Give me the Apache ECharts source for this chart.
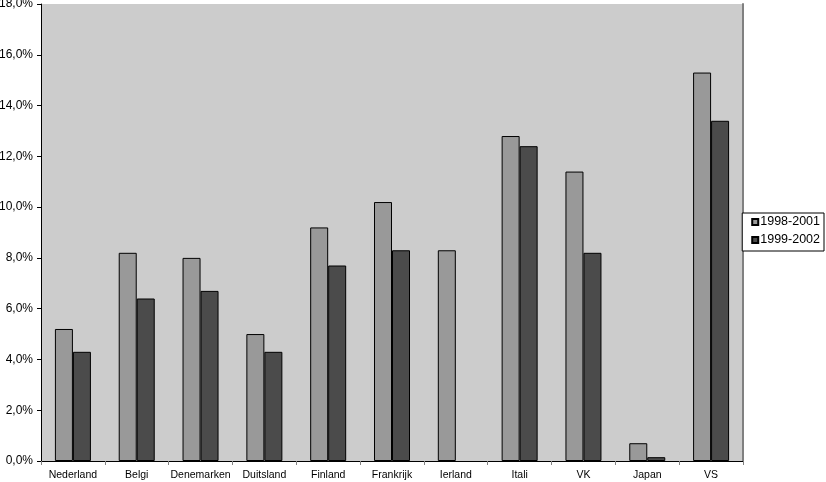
<!DOCTYPE html>
<html>
<head>
<meta charset="utf-8">
<script src="https://cdn.jsdelivr.net/npm/echarts@6/dist/echarts.min.js"></script>
<style>
html,body{margin:0;padding:0;background:#fff;}
#chart{width:826px;height:482px;}
</style>
</head>
<body>
<div id="chart"></div>
<script>
var categories = ['Nederland','Belgi','Denemarken','Duitsland','Finland','Frankrijk','Ierland','Itali','VK','Japan','VS'];
var seriesNames = ['1998-2001','1999-2002'];
var values1998 = [5.2, 8.2, 8.0, 5.0, 9.2, 10.2, 8.3, 12.8, 11.4, 0.7, 15.3];
var values1999 = [4.3, 6.4, 6.7, 4.3, 7.7, 8.3, null, 12.4, 8.2, 0.15, 13.4];
var yMin = 0, yMax = 18, yStep = 2;

var font = "'Liberation Sans', Arial, Helvetica, sans-serif";
var chart = echarts.init(document.getElementById('chart'), null, {renderer:'canvas'});
function fmt(v){ return v.toFixed(1).replace('.', ',') + '%'; }
chart.setOption({
  animation:false,
  backgroundColor:'#ffffff',
  textStyle:{fontFamily:font, color:'#000'},
  grid:{left:41, right:83, top:4, bottom:21, containLabel:false, outerBoundsMode:'none',
        show:true, backgroundColor:'#cccccc', borderWidth:0},
  legend:{
    orient:'vertical', right:2, top:213,
    icon:'rect', itemWidth:6, itemHeight:6, itemGap:4,
    backgroundColor:'#ffffff', borderColor:'#000', borderWidth:1, borderRadius:0,
    padding:[2,4,4,9],
    textStyle:{fontFamily:font, fontSize:12.5, lineHeight:14, color:'#000', padding:[0,0,0,-3]},
    data:seriesNames
  },
  xAxis:[{
    type:'category', data:categories, position:'bottom',
    axisLine:{lineStyle:{color:'#000', width:1}},
    axisTick:{show:true, length:4, lineStyle:{color:'#808080'}},
    axisLabel:{color:'#000', fontSize:10.5, fontFamily:font, margin:9, interval:0},
    splitLine:{show:false}
  },{
    type:'category', data:categories, position:'top',
    axisLine:{lineStyle:{color:'#000', width:1}},
    axisTick:{show:false}, axisLabel:{show:false}, splitLine:{show:false}
  }],
  yAxis:[{
    type:'value', min:yMin, max:yMax, interval:yStep,
    axisLine:{show:true, lineStyle:{color:'#000', width:1}},
    axisTick:{show:true, length:4, lineStyle:{color:'#000'}},
    axisLabel:{color:'#000', fontSize:12, fontFamily:font, margin:8, padding:[3,0,0,0], formatter:fmt},
    splitLine:{show:false}
  },{
    type:'value', min:yMin, max:yMax, interval:yStep, position:'right',
    axisLine:{show:true, lineStyle:{color:'#808080', width:2}},
    axisTick:{show:false}, axisLabel:{show:false}, splitLine:{show:false}
  }],
  series:[{
    name:seriesNames[0], type:'bar', data:values1998, barWidth:18, barGap:'0%',
    itemStyle:{color:'#999999', borderColor:'#000', borderWidth:1}
  },{
    name:seriesNames[1], type:'bar', data:values1999, barWidth:18, barGap:'0%',
    itemStyle:{color:'#4b4b4b', borderColor:'#000', borderWidth:1}
  }]
});
</script>
</body>
</html>
